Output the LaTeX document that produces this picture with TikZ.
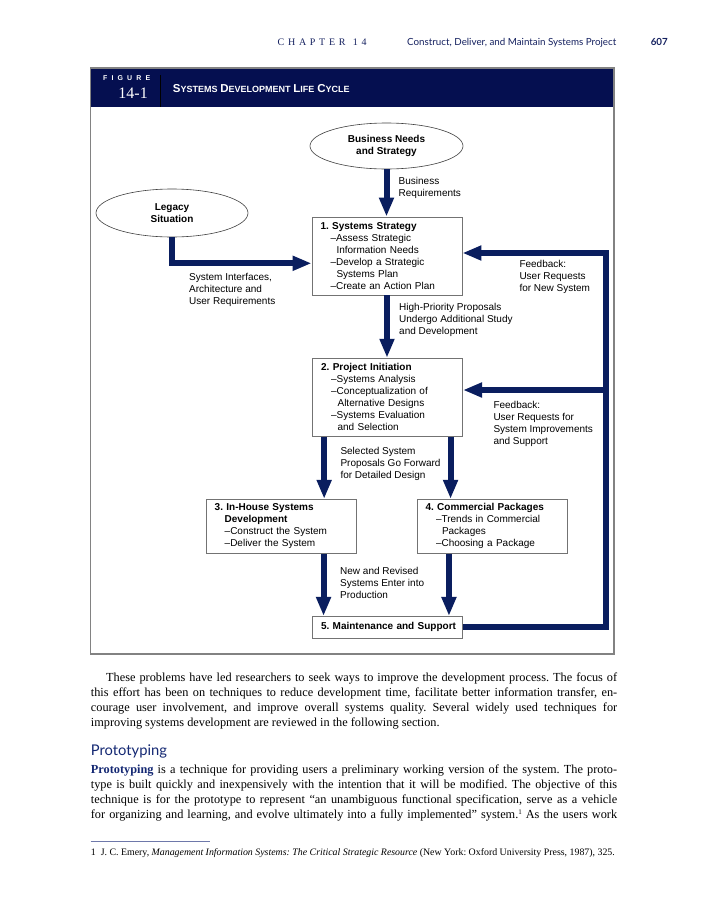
\documentclass[tikz,border=0pt]{standalone}
\usepackage{fontspec}
\setmainfont{Liberation Serif}
\newfontfamily\figfont{Liberation Sans}
\newfontfamily\gillfont{Lato}
\usetikzlibrary{arrows.meta,shapes.geometric}
\definecolor{navy}{RGB}{10,30,95}
\definecolor{barnavy}{RGB}{5,15,80}
\definecolor{hdnavy}{RGB}{20,32,95}
\definecolor{linknavy}{RGB}{20,40,115}
\definecolor{boxgray}{RGB}{115,115,115}
\definecolor{framegray}{RGB}{130,130,130}
\definecolor{rulegray}{RGB}{110,120,170}
\newcommand{\mysc}[2]{{\fontsize{11.5}{12}\selectfont #1}{\fontsize{9}{12}\selectfont #2}}
\newcommand{\ml}[1]{\begin{tabular}[t]{@{}l@{}}#1\end{tabular}}
\frenchspacing
\begin{document}
\frenchspacing
\begin{tikzpicture}[x=1pt,y=-1pt,
  box/.style={draw=boxgray, line width=0.9pt, fill=white, inner xsep=8.5pt, inner ysep=0pt,
    minimum width=150pt, text width=133pt, align=left, font=\figfont\fontsize{10}{12}\selectfont},
  oval/.style={ellipse, draw=black!75, line width=0.6pt, inner sep=0pt, align=center,
    font=\figfont\bfseries\fontsize{10}{12}\selectfont},
  lbl/.style={anchor=base west, inner sep=0pt, font=\figfont\fontsize{10}{12}\selectfont},
  arr/.style={draw=navy, line width=6pt, -{Triangle[length=19pt,width=14pt]}},
  body/.style={anchor=base west, inner sep=0pt, font=\fontsize{12.3}{15}\selectfont},
]
\useasboundingbox (0,0) rectangle (719,900);
\fill[white] (0,0) rectangle (719,900);

% running header
\node[anchor=base west, inner sep=0pt, text=hdnavy, font=\fontsize{10}{10}\selectfont] (chap) at (277.5,45)
  {\makebox[89pt][s]{C\hfil H\hfil A\hfil P\hfil T\hfil E\hfil R\hfil\hfil 1\hfil 4}};
\node[anchor=base west, inner sep=0pt, text=hdnavy] (runtitle) at (407,45)
  {\resizebox{209pt}{!}{\gillfont Construct, Deliver, and Maintain Systems Project}};
\node[anchor=base east, inner sep=0pt, text=hdnavy] (pageno) at (668,45)
  {\resizebox{17pt}{!}{\gillfont\bfseries 607}};

% figure frame and title bar
\fill[barnavy] (90.7,68) rectangle (614,107);
\draw[framegray, line width=1.1pt] (90.7,68) rectangle (614,654);
\draw[black, line width=1pt] (160.7,75) -- (160.7,107);
\node[anchor=base west, inner sep=0pt, text=white, font=\figfont\bfseries\fontsize{7}{7}\selectfont] (figword) at (103,80.5)
  {\makebox[47pt][s]{F\hfil I\hfil G\hfil U\hfil R\hfil E}};
\node[anchor=base east, inner sep=0pt, text=white, font=\fontsize{16}{16}\selectfont] (fignum) at (148,98.5) {14-1};
\node[anchor=base west, inner sep=0pt, text=white, font=\figfont\bfseries] (figtitle) at (172.7,92.7)
  {\mysc{S}{YSTEMS}\ \mysc{D}{EVELOPMENT}\ \mysc{L}{IFE}\ \mysc{C}{YCLE}};

% ovals
\node[oval, minimum width=153pt, minimum height=46pt] (bn) at (386.5,146) {Business Needs\\and Strategy};
\node[oval, minimum width=152pt, minimum height=48pt] (leg) at (172,213) {Legacy\\Situation};

% boxes
\node[box, minimum height=78pt] (b1) at (387,256) {\textbf{1. Systems Strategy}\\
  \hspace*{10pt}–Assess Strategic\\ \hspace*{16pt}Information Needs\\
  \hspace*{10pt}–Develop a Strategic\\ \hspace*{16pt}Systems Plan\\
  \hspace*{10pt}–Create an Action Plan};
\node[box, minimum height=78pt] (b2) at (387.6,397.2) {\textbf{2. Project Initiation}\\
  \hspace*{10pt}–Systems Analysis\\
  \hspace*{10pt}–Conceptualization of\\ \hspace*{16.5pt}Alternative Designs\\
  \hspace*{10pt}–Systems Evaluation\\ \hspace*{16.5pt}and Selection};
\node[box, minimum height=54pt] (b3) at (281.2,526.3) {\textbf{3. In-House Systems}\\
  \hspace*{10pt}\textbf{Development}\\
  \hspace*{10pt}–Construct the System\\
  \hspace*{10pt}–Deliver the System};
\node[box, minimum height=54pt] (b4) at (492,526.3) {\textbf{4. Commercial Packages}\\
  \hspace*{10.5pt}–Trends in Commercial\\ \hspace*{16.5pt}Packages\\
  \hspace*{10.5pt}–Choosing a Package};
\node[box, minimum height=22pt] (b5) at (387.5,627.4) {\mbox{\textbf{5. Maintenance and Support}}};

% labels
\node[lbl] (lbBR) at (398.5,184) {\ml{Business\\Requirements}};
\node[lbl] (lbSI) at (189,280) {\ml{System Interfaces,\\Architecture and\\User Requirements}};
\node[lbl] (lbHP) at (399,310) {\ml{High-Priority Proposals\\Undergo Additional Study\\and Development}};
\node[lbl] (lbF1) at (519.3,267.6) {\ml{Feedback:\\User Requests\\for New System}};
\node[lbl] (lbF2) at (493.3,408.3) {\ml{Feedback:\\User Requests for\\System Improvements\\and Support}};
\node[lbl] (lbSS) at (340.3,454) {\ml{Selected System\\Proposals Go Forward\\for Detailed Design}};
\node[lbl] (lbNR) at (340,574) {\ml{New and Revised\\Systems Enter into\\Production}};

% connectors
\draw[arr] (bn.south) -- (bn.south |- b1.north);
\draw[arr] (leg.south) |- ([yshift=-7.3pt]b1.west);
\draw[arr] (b1.south) -- (b1.south |- b2.north);
\draw[arr] ([xshift=12pt]b2.south west) -- ([xshift=12pt]b2.south west |- b3.north);
\draw[arr] ([xshift=-12.5pt]b2.south east) -- ([xshift=-12.5pt]b2.south east |- b4.north);
\draw[arr] ([xshift=11.5pt]b5.north west |- b3.south) -- ([xshift=11.5pt]b5.north west);
\draw[arr] ([xshift=-14pt]b5.north east |- b4.south) -- ([xshift=-14pt]b5.north east);
\coordinate (fbtop) at (605.5,253);
\coordinate (fbmid) at (605.5,390);
\draw[arr] (b5.east) -| (fbtop) -- (b1.east |- fbtop);
\draw[arr] (fbmid) -- (b2.east |- fbmid);

% body text
\node[body] (p1a) at (106,681.5) {\makebox[511pt][s]{These problems have led researchers to seek ways to improve the development process. The focus of}};
\node[body] (p1b) at (90.7,696.5) {\makebox[526.3pt][s]{this effort has been on techniques to reduce development time, facilitate better information transfer, en-}};
\node[body] (p1c) at (90.7,711.5) {\makebox[526.3pt][s]{courage user involvement, and improve overall systems quality. Several widely used techniques for}};
\node[body] (p1d) at (90.7,726.5) {improving systems development are reviewed in the following section.};

\node[anchor=base west, inner sep=0pt, text=linknavy] (head) at (90.7,755) {\resizebox{76pt}{!}{\gillfont Prototyping}};

\node[body] (p2a) at (90.7,773.5) {\makebox[526.3pt][s]{\textcolor{linknavy}{\textbf{Prototyping}} is a technique for providing users a preliminary working version of the system. The proto-}};
\node[body] (p2b) at (90.7,788.5) {\makebox[526.3pt][s]{type is built quickly and inexpensively with the intention that it will be modified. The objective of this}};
\node[body] (p2c) at (90.7,803.5) {\makebox[526.3pt][s]{technique is for the prototype to represent “an unambiguous functional specification, serve as a vehicle}};
\node[body] (p2d) at (90.7,818.5) {\makebox[526.3pt][s]{for organizing and learning, and evolve ultimately into a fully implemented” system.\raisebox{4.5pt}{\fontsize{7}{7}\selectfont 1} As the users work}};

% footnote
\draw[rulegray, line width=1pt] (90.7,841) -- (210,841);
\node[anchor=base west, inner sep=0pt] (fn) at (90.7,855.5) {\resizebox{524pt}{!}{\fontsize{9.5}{11}\selectfont 1\enspace J. C. Emery, \textit{Management Information Systems: The Critical Strategic Resource} (New York: Oxford University Press, 1987), 325.}};
\end{tikzpicture}
\end{document}
